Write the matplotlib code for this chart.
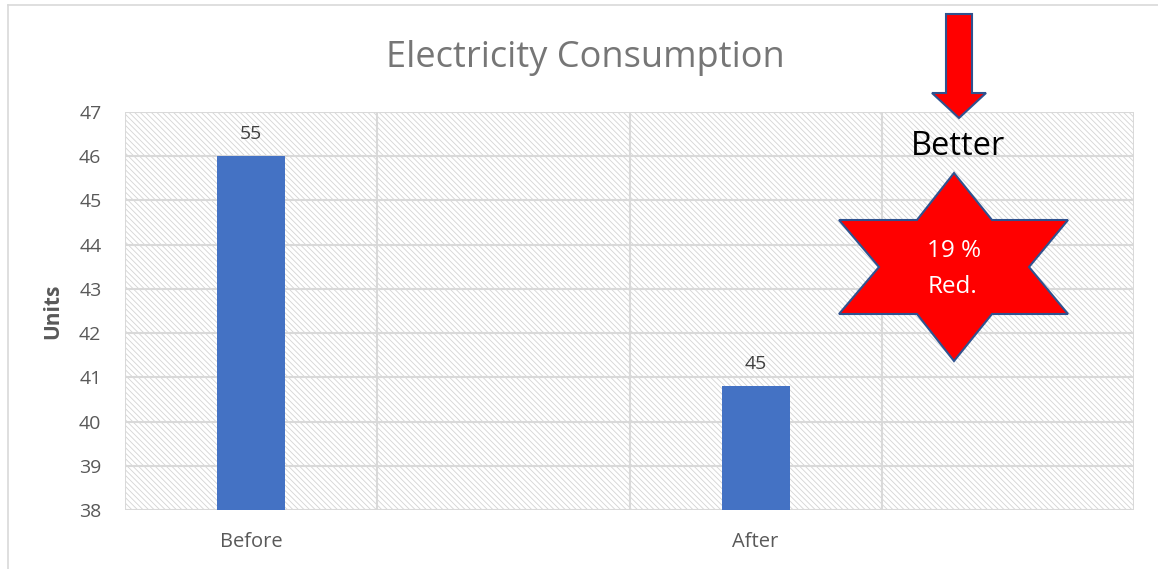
import numpy as np
import matplotlib
matplotlib.use("Agg")
import matplotlib.pyplot as plt
import matplotlib.patches as patches

plt.rcParams['font.family'] = ['Open Sans', 'DejaVu Sans']
plt.rcParams['hatch.linewidth'] = 0.6

# data (two empty slots, like the source chart)
categories = ["Before", "", "After", ""]
values = [46, np.nan, 40.8, np.nan]
bar_labels = ["55", "", "45", ""]
yticks = [38, 39, 40, 41, 42, 43, 44, 45, 46, 47]

W, H = 1158, 569
fig = plt.figure(figsize=(W/100, H/100), dpi=100)
fig.patch.set_facecolor("white")

def px(x, y):
  # figure pixels (top-left origin) -> figure fraction
  return x/W, 1-y/H

ax = fig.add_axes([125/W, 1-510/H, (1134-125)/W, (510-112)/H])
ax.set_xlim(-0.5, len(categories)-0.5)
ax.set_ylim(yticks[0], yticks[-1])

# hatched plot area
bg = patches.Rectangle((0, 0), 1, 1, transform=ax.transAxes, facecolor="white",
                       edgecolor="#d4d4d4", hatch="\\\\\\\\\\\\", lw=0, zorder=0)
ax.add_patch(bg)
ax.set_facecolor("none")

grid_c = "#d9d9d9"
for yv in yticks:
  ax.axhline(yv, color=grid_c, lw=1.5, zorder=1)
for xv in np.arange(-0.5, len(categories), 1.0):
  ax.axvline(xv, color=grid_c, lw=1.5, zorder=1)

xs = np.arange(len(categories))
for x, v, lab in zip(xs, values, bar_labels):
  if np.isnan(v):
    continue
  ax.bar(x, v-yticks[0], bottom=yticks[0], width=0.27, color="#4472C4", zorder=2)
  ax.text(x, v+0.38, lab, ha="center", va="baseline", fontsize=14, color="#404040")

for s in ax.spines.values():
  s.set_visible(False)
ax.set_yticks(yticks)
ax.set_xticks(xs)
ax.set_xticklabels(categories)
ax.tick_params(axis="both", length=0, labelsize=14, labelcolor="#595959")
ax.tick_params(axis="x", labelsize=14.5, pad=16)
ax.tick_params(axis="y", pad=17)
ax.set_ylabel("Units", fontsize=15, fontweight="bold", color="#595959")
ax.yaxis.set_label_coords(-0.061, 0.5)

fig.text(*px(585, 67), "Electricity Consumption", ha="center", va="baseline",
         fontsize=26, color="#767676")

# chart border (left and top)
fig.add_artist(plt.Line2D([8/W, 8/W], [0, 1-5/H], color="#d9d9d9", lw=1.2))
fig.add_artist(plt.Line2D([8/W, 1], [1-5/H, 1-5/H], color="#d9d9d9", lw=1.2))

# arrow shape
arrow_pts = [(946, 14), (972, 14), (972, 93), (986, 93), (959, 118), (932, 93), (946, 93)]
fig.add_artist(patches.Polygon([px(*p) for p in arrow_pts], closed=True,
                               facecolor="#FF0000", edgecolor="#2F528F", lw=1.5,
                               transform=fig.transFigure))
fig.text(*px(958, 155), "Better", ha="center", va="baseline", fontsize=23.5, color="black")

# six point star
star_pts = [(954, 173), (992, 220), (1068, 220), (1029, 267), (1068, 314), (992, 314),
            (954, 361), (917, 314), (839, 314), (879, 267), (839, 220), (917, 220)]
fig.add_artist(patches.Polygon([px(*p) for p in star_pts], closed=True,
                               facecolor="#FF0000", edgecolor="#2F528F", lw=1.5,
                               transform=fig.transFigure))
fig.text(*px(954, 257), "19 %", ha="center", va="baseline", fontsize=17.5, color="white")
fig.text(*px(953, 293), "Red.", ha="center", va="baseline", fontsize=17.5, color="white")

plt.savefig("out.png", dpi=100)
